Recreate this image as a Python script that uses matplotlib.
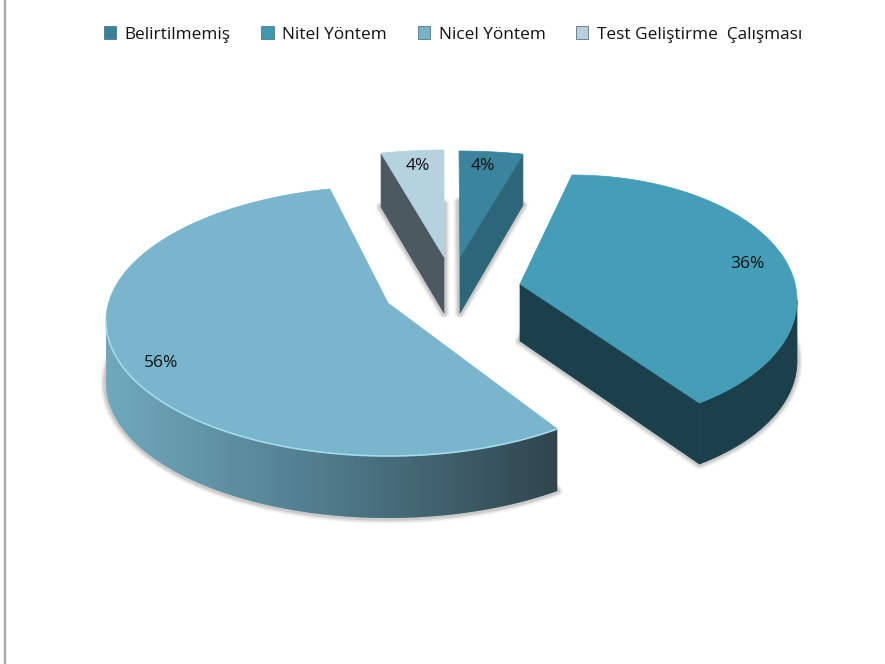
import numpy as np
import matplotlib
matplotlib.use("Agg")
import matplotlib.pyplot as plt
from matplotlib.patches import Polygon, Patch
from matplotlib.colors import LinearSegmentedColormap

# ---- data ----
categories = ["Belirtilmemiş", "Nitel Yöntem", "Nicel Yöntem", "Test Geliştirme  Çalışması"]
values = [4, 36, 56, 4]

# ---- styles ----
top_colors = ["#3A859D", "#449EB8", "#79B6CD", "#B5D2DF"]
side_colors = ["#2C6678", "#1B404B", None, "#4C5961"]
legend_colors = ["#37819A", "#3F98B2", "#79B3C8", "#B8D0DB"]
wall_cmap = LinearSegmentedColormap.from_list("wall", ["#70A9BD", "#4F7A8A", "#2F454D"])

# ---- layout (pixels): ellipse of each exploded slice, its apex and extrusion ----
cx = [459, 572, 388, 444]
cy = [251, 300, 321, 250]
rx = [257, 225, 282, 253]
ry = [100, 125, 135, 100]
apex_x = [460, 520, 388, 444]
apex_y = [257, 284, 303, 257]
depth_rim = [51, 61, 62, 54]
depth_apex = [56, 57, 62, 56]
cut_edge = ["end", "end", None, "start"]
# perspective correction of the rim ends (degrees)
persp_start = [0, -14.4, -0.9, 0]
persp_end = [0, 1.5, 2.5, 0]
label_xy = [(483, 166), (747, 264), (161, 363), (418, 166)]

fig = plt.figure(figsize=(8.85, 6.64), dpi=100)
ax = fig.add_axes([0, 0, 1, 1])
ax.set_xlim(0, 885)
ax.set_ylim(664, 0)
ax.axis("off")
FONT = "Open Sans"

# left frame line
ax.axvline(5, color="#A8A8A8", lw=1.6, zorder=0)

fractions = np.array(values, dtype=float) / sum(values)
ends = np.cumsum(fractions) * 360.0 + np.array(persp_end)
starts = np.cumsum(fractions) * 360.0 - fractions * 360.0 + np.array(persp_start)


def arc(i, a0, a1, n=120):
    t = np.radians(np.linspace(a0, a1, n))
    return np.column_stack([cx[i] + rx[i] * np.sin(t), cy[i] - ry[i] * np.cos(t)])


for i in range(len(values)):
    pts = arc(i, starts[i], ends[i])
    apex = np.array([apex_x[i], apex_y[i]])
    drop = np.array([0, depth_rim[i]])
    drop_apex = np.array([0, depth_apex[i]])

    # soft ground shadow
    floor = np.vstack([apex + drop_apex, pts + drop])
    for lw, alpha in ((8, 0.07), (6, 0.10), (4, 0.16)):
        ax.add_patch(Polygon(floor, closed=True, fc="#555555", ec="#555555",
                             lw=lw, alpha=alpha, zorder=1, joinstyle="round"))

    # cut face
    if cut_edge[i]:
        p = pts[-1] if cut_edge[i] == "end" else pts[0]
        ax.add_patch(Polygon([apex, p, p + drop, apex + drop_apex], closed=True,
                             fc=side_colors[i], ec=side_colors[i], lw=0.5, zorder=2))

    # outer wall: only the front half of the rim faces the viewer
    a0, a1 = max(starts[i], 90.0), min(ends[i], 270.0)
    if a1 > a0:
        w = arc(i, a0, a1, 160)
        wall = Polygon(np.vstack([w, (w + drop)[::-1]]), closed=True, zorder=2)
        if side_colors[i]:
            wall.set(fc=side_colors[i], ec=side_colors[i], lw=0.5)
            ax.add_patch(wall)
        else:
            wall.set(fc="none", ec="none")
            ax.add_patch(wall)
            im = ax.imshow(np.linspace(0, 1, 256)[None, :], cmap=wall_cmap, aspect="auto",
                           extent=(w[:, 0].min(), w[:, 0].max(),
                                   (w + drop)[:, 1].max(), w[:, 1].min()), zorder=2)
            im.set_clip_path(wall)
            ax.plot(w[:, 0], w[:, 1], color="#A5DAEC", lw=1.2, zorder=3.5)

    # top face
    ax.add_patch(Polygon(np.vstack([apex, pts]), closed=True, fc=top_colors[i],
                         ec=top_colors[i], lw=0.5, zorder=3))

    ax.text(label_xy[i][0], label_xy[i][1], f"{values[i]}%", ha="center", va="center",
            fontsize=12.5, color="#111111", family=FONT, zorder=5)

ax.set_xlim(0, 885)
ax.set_ylim(664, 0)

handles = [Patch(facecolor=c, edgecolor="#5A7480", linewidth=0.6) for c in legend_colors]
ax.legend(handles, categories, loc="center", bbox_to_anchor=(453 / 885, 1 - 34.5 / 664),
          ncols=4, frameon=False, handlelength=0.72, handleheight=0.78, handletextpad=0.5,
          columnspacing=1.77, prop={"family": FONT, "size": 12.4}, labelcolor="#111111")

fig.savefig("out.png", dpi=100)
